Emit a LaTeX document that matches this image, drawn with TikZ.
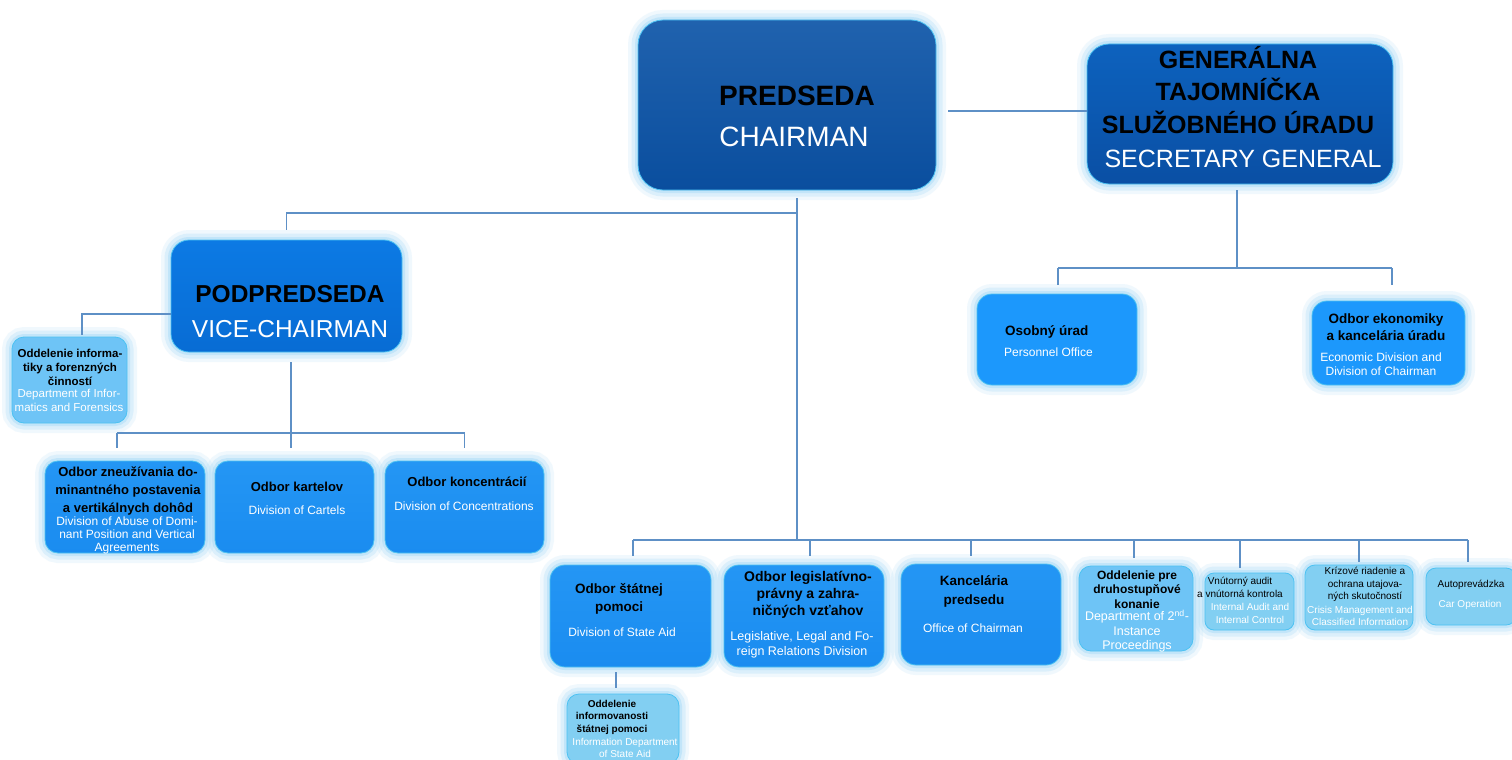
\documentclass[tikz,border=0pt]{standalone}
\usepackage{fontspec}
\setmainfont{Liberation Sans}
\newcommand\myfs[2]{\fontsize{#1}{#2}\selectfont}
\definecolor{predT}{HTML}{2062AE}
\definecolor{predB}{HTML}{0A4E9E}
\definecolor{genT}{HTML}{0D62BE}
\definecolor{genB}{HTML}{0A4FA4}
\definecolor{podpT}{HTML}{0C7AE4}
\definecolor{podpB}{HTML}{086CD4}
\definecolor{medc}{HTML}{1A8CF0}
\definecolor{medT}{HTML}{2496F4}
\definecolor{osobc}{HTML}{1C98FC}
\definecolor{lightc}{HTML}{6EC4F6}
\definecolor{paleC}{HTML}{82CFF2}
\definecolor{edgec}{HTML}{4CC2F2}
\definecolor{glowc}{HTML}{9ED6F6}
\definecolor{connc}{HTML}{5E90C6}
\begin{document}
\begin{tikzpicture}[x=1pt,y=-1pt,
  glow/.style={preaction={draw=glowc,line width=20pt,draw opacity=0.15},
               preaction={draw=glowc,line width=13pt,draw opacity=0.25},
               preaction={draw=glowc,line width=6pt,draw opacity=0.4}},
  box/.style={rounded corners=#1,draw=edgec,line width=0.8pt,inner sep=0pt,glow},
  conn/.style={draw=connc,line width=1.6pt},
  ttl/.style={text=black,align=center,inner sep=0pt},
  sub/.style={text=white,align=center,inner sep=0pt}]
\useasboundingbox (0,0) rectangle (1512,760);
\fill[white] (0,0) rectangle (1512,760);

% ---------- boxes ----------
\node[box=25,minimum width=298pt,minimum height=170pt,top color=predT,bottom color=predB] (pred) at (787,105) {};
\node[box=22,minimum width=306pt,minimum height=140pt,top color=genT,bottom color=genB] (gen) at (1240,114) {};
\node[box=18,minimum width=231pt,minimum height=112pt,top color=podpT,bottom color=podpB] (podp) at (286.5,296) {};
\node[box=12,minimum width=115pt,minimum height=86pt,fill=lightc] (inf) at (69.5,380) {};
\node[box=13,minimum width=160pt,minimum height=92pt,top color=medT,bottom color=medc] (zneu) at (125,507) {};
\node[box=13,minimum width=159pt,minimum height=92pt,top color=medT,bottom color=medc] (kart) at (294.5,507) {};
\node[box=13,minimum width=159pt,minimum height=92pt,top color=medT,bottom color=medc] (konc) at (464.5,507) {};
\node[box=15,minimum width=160pt,minimum height=91pt,fill=osobc] (osob) at (1057,339.5) {};
\node[box=15,minimum width=153pt,minimum height=84pt,fill=osobc] (ekon) at (1388.5,343) {};
\node[box=15,minimum width=161pt,minimum height=102pt,top color=medT,bottom color=medc] (stat) at (630.5,616) {};
\node[box=12,minimum width=112pt,minimum height=70pt,fill=paleC] (infst) at (623,729) {};
\node[box=15,minimum width=160pt,minimum height=102pt,top color=medT,bottom color=medc] (leg) at (804,616) {};
\node[box=15,minimum width=160pt,minimum height=101pt,top color=medT,bottom color=medc] (kanc) at (981,614.5) {};
\node[box=12,minimum width=114pt,minimum height=85pt,fill=lightc] (odd2) at (1136,608.5) {};
\node[box=9,minimum width=89pt,minimum height=57pt,fill=paleC] (vnut) at (1249.5,601.5) {};
\node[box=10,minimum width=108pt,minimum height=65pt,fill=paleC] (kriz) at (1359,597.5) {};
\node[box=10,minimum width=90pt,minimum height=57pt,fill=paleC] (auto) at (1471,596.5) {};

% ---------- connectors ----------
\coordinate (pgL) at (948,111);
\draw[conn] (pgL) -- (pgL -| gen.west);
\coordinate (pv1) at (797,198);
\coordinate (pv2) at (797,213);
\coordinate (pv3) at (797,540);
\draw[conn] (pv1) -- (pv3);
\draw[conn] (pv2) -| ([yshift=10pt]podp.north);
\draw[conn] ([xshift=2.5pt]stat.north |- pv3) -- ([xshift=-3pt]auto.north |- pv3);
\foreach \n/\dx/\gap in {stat/2.5/9,leg/6/9,kanc/-10/8,odd2/-2/8,vnut/-9.5/5,kriz/0/3,auto/-3/6}
  \draw[conn] ([xshift=\dx pt]\n.north |- pv3) -- ([xshift=\dx pt,yshift=\gap pt]\n.north);
\coordinate (vv2) at (291,433);
\draw[conn] ([xshift=4.5pt,yshift=-10pt]podp.south) -- (vv2);
\draw[conn] ([xshift=-8pt]zneu.north |- vv2) -- (konc.north |- vv2);
\foreach \n/\dx in {zneu/-8,kart/-3.5,konc/0}
  \draw[conn] ([xshift=\dx pt]\n.north |- vv2) -- ([xshift=\dx pt,yshift=13pt]\n.north);
\draw[conn] ([yshift=-18pt]podp.west) -| ([xshift=12.5pt,yshift=2pt]inf.north);
\coordinate (gb) at (1237,268);
\draw[conn] ([xshift=-3pt,yshift=-6pt]gen.south) -- (gb);
\draw[conn] ([xshift=1pt]osob.north |- gb) -- ([xshift=3.5pt]ekon.north |- gb);
\draw[conn] ([xshift=1pt]osob.north |- gb) -- ([xshift=1pt,yshift=9pt]osob.north);
\draw[conn] ([xshift=3.5pt]ekon.north |- gb) -- ([xshift=3.5pt,yshift=16pt]ekon.north);
\coordinate (s2) at (616,688);
\draw[conn] ([xshift=-14.5pt,yshift=-5pt]stat.south) -- (s2);

% ---------- texts ----------
\node[ttl,font=\myfs{28}{34}\bfseries] (predA) at (797,96) {PREDSEDA};
\node[sub,font=\myfs{28}{34}] (predB) at (794,137) {CHAIRMAN};
\node[ttl,font=\myfs{25}{32.5}\bfseries] (genA) at (1238,90) {GENERÁLNA\\TAJOMNÍČKA\\SLUŽOBNÉHO ÚRADU};
\node[sub,font=\myfs{25}{30}] (genB) at (1243,159) {SECRETARY GENERAL};
\node[ttl,font=\myfs{24.5}{30}\bfseries] (podpA) at (290,294) {PODPREDSEDA};
\node[sub,font=\myfs{24.5}{30}] (podpB) at (290,329) {VICE-CHAIRMAN};

\node[ttl,font=\myfs{11.5}{14}\bfseries] (infA) at (70,367) {Oddelenie informa-\\tiky a forenzných\\činností};
\node[sub,font=\myfs{11.5}{14}] (infB) at (69,400) {Department of Infor-\\matics and Forensics};

\node[ttl,font=\myfs{13}{18}\bfseries] (zneuA) at (128,491) {Odbor zneužívania do-\\minantného postavenia\\a vertikálnych dohôd};
\node[sub,font=\myfs{12}{13}] (zneuB) at (127,535) {Division of Abuse of Domi-\\nant Position and Vertical\\Agreements};
\node[ttl,font=\myfs{13}{18}\bfseries] (kartA) at (297,487) {Odbor kartelov};
\node[sub,font=\myfs{12}{14}] (kartB) at (297,510) {Division of Cartels};
\node[ttl,font=\myfs{13}{18}\bfseries] (koncA) at (467,482) {Odbor koncentrácií};
\node[sub,font=\myfs{12}{14}] (koncB) at (464,506) {Division of Concentrations};

\node[ttl,font=\myfs{13.5}{17}\bfseries,anchor=west] (osobA) at (1005,332) {Osobný úrad};
\node[sub,font=\myfs{12}{14},anchor=west] (osobB) at (1004,352) {Personnel Office};
\node[ttl,font=\myfs{13.5}{17}\bfseries] (ekonA) at (1386,327) {Odbor ekonomiky\\a kancelária úradu};
\node[sub,font=\myfs{12}{14}] (ekonB) at (1381,364) {Economic Division and\\Division of Chairman};

\node[ttl,font=\myfs{13.5}{18}\bfseries] (statA) at (619,599) {Odbor štátnej\\pomoci};
\node[sub,font=\myfs{12}{14}] (statB) at (622,632) {Division of State Aid};
\node[ttl,font=\myfs{10}{12.5}\bfseries] (infstA) at (612,717) {Oddelenie\\informovanosti\\štátnej pomoci};
\node[sub,font=\myfs{10}{12}] (infstB) at (625,748) {Information Department\\of State Aid};

\node[ttl,font=\myfs{14}{17}\bfseries] (legA) at (808,595) {Odbor legislatívno-\\právny a zahra-\\ničných vzťahov};
\node[sub,font=\myfs{12.5}{15}] (legB) at (802,644.5) {Legislative, Legal and Fo-\\reign Relations Division};

\node[ttl,font=\myfs{13.5}{19}\bfseries] (kancA) at (974,591.5) {Kancelária\\predsedu};
\node[sub,font=\myfs{12}{14}] (kancB) at (973,628) {Office of Chairman};

\node[ttl,font=\myfs{12}{14.5}\bfseries] (odd2A) at (1137,589.5) {Oddelenie pre\\druhostupňové\\konanie};
\node[sub,font=\myfs{12.5}{14.5}] (odd2B) at (1137,631) {Department of 2\textsuperscript{nd}-\\Instance\\Proceedings};

\node[ttl,font=\myfs{10}{13}] (vnutA) at (1240,587.5) {Vnútorný audit\\a vnútorná kontrola};
\node[sub,font=\myfs{10}{13}] (vnutB) at (1250,613.5) {Internal Audit and\\Internal Control};

\node[ttl,font=\myfs{10}{12.5}] (krizA) at (1365,584.5) {Krízové riadenie a\\ochrana utajova-\\ných skutočností};
\node[sub,font=\myfs{10}{12}] (krizB) at (1360,616) {Crisis Management and\\Classified Information};

\node[ttl,font=\myfs{10}{12}] (autoA) at (1471,585) {Autoprevádzka};
\node[sub,font=\myfs{10}{12}] (autoB) at (1470,605) {Car Operation};
\end{tikzpicture}
\end{document}
